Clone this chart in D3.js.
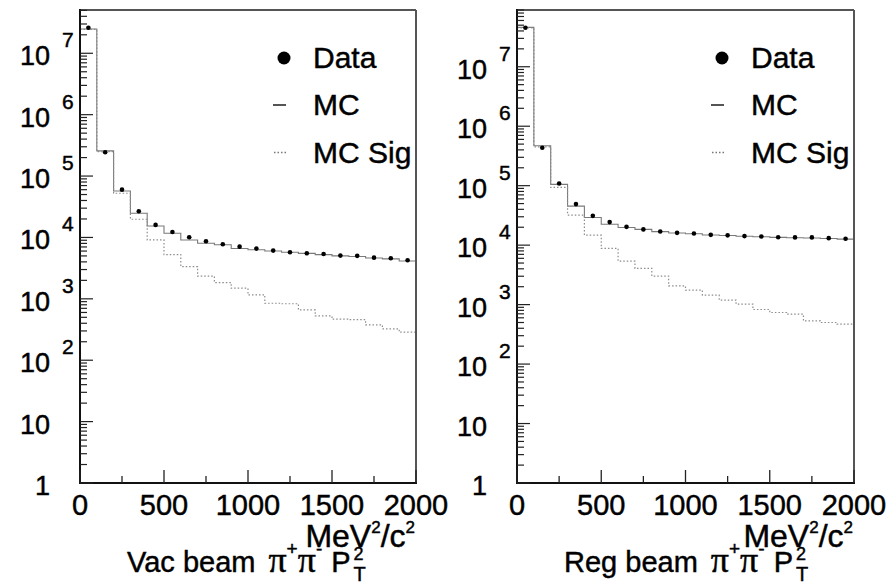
<!DOCTYPE html>
<html><head><meta charset="utf-8">
<script src="https://cdn.jsdelivr.net/npm/d3@7"></script>
<style>
body{margin:0;background:#fff}
svg{display:block}
text{font-family:"Liberation Sans",Arial,Helvetica,sans-serif;fill:#000;stroke:#000;stroke-width:0.45px}
</style>
</head><body>
<svg id="chart" width="894" height="583"></svg>
<script>
// ---------------- data ----------------
const binCenters = [50,150,250,350,450,550,650,750,850,950,1050,1150,1250,1350,1450,1550,1650,1750,1850,1950];
const binWidth = 100;
const xTickValues = [0,500,1000,1500,2000];
const xMinorTickValues = [250,750,1250,1750];
const yDecades = [0,1,2,3,4,5,6,7];
const panelTitles = ["Vac beam","Reg beam"];
const legendLabels = ["Data","MC","MC Sig"];

const vacData = [2.61e7,2.44e5,6.01e4,2.67e4,1.60e4,1.23e4,1.01e4,8670,7740,7080,6580,6100,5740,5530,5380,5060,5010,4690,4580,4260];
const vacMC   = [2.49e7,2.57e5,5.71e4,2.48e4,1.54e4,1.17e4,9100,8050,7590,6610,6310,6030,5750,5500,5250,5010,4900,4620,4470,4140];
const vacSig  = [2.45e7,2.50e5,5.25e4,1.98e4,9120,5250,3340,2340,1840,1490,1160,847,832,659,527,466,457,376,324,286];

const regData = [4.53e7,4.34e5,1.09e5,4.90e4,3.11e4,2.44e4,2.03e4,1.84e4,1.70e4,1.61e4,1.57e4,1.49e4,1.46e4,1.42e4,1.40e4,1.36e4,1.35e4,1.35e4,1.31e4,1.28e4];
const regMC   = [4.60e7,4.69e5,1.05e5,4.53e4,2.92e4,2.25e4,1.98e4,1.84e4,1.69e4,1.60e4,1.55e4,1.48e4,1.45e4,1.41e4,1.38e4,1.35e4,1.33e4,1.32e4,1.29e4,1.26e4];
const regSig  = [4.50e7,4.50e5,9.36e4,3.20e4,1.47e4,8790,5380,4060,3010,2070,1750,1440,1190,1020,828,736,690,532,500,469];

const yMaxValues = [5.07e7, 9.0e7];

// ---------------- layout ----------------
const svg = d3.select("#chart");
const panels = [
  {left:80, right:416, top:10, bottom:483, title:panelTitles[0], data:vacData, mc:vacMC, sig:vacSig, ymax:yMaxValues[0]},
  {left:517, right:854, top:10, bottom:483, title:panelTitles[1], data:regData, mc:regMC, sig:regSig, ymax:yMaxValues[1]}
];
const serif = "'Liberation Serif','DejaVu Serif',serif";

panels.forEach(p => {
  const g = svg.append("g");
  const x = d3.scaleLinear().domain([0,2000]).range([p.left,p.right]);
  const y = d3.scaleLog().domain([1,p.ymax]).range([p.bottom,p.top]);

  const stepPts = vals => {
    const pts = [];
    vals.forEach((v,i) => {
      pts.push([binCenters[i]-binWidth/2, v]);
      pts.push([binCenters[i]+binWidth/2, v]);
    });
    return pts;
  };
  const line = d3.line().x(d => x(d[0])).y(d => y(Math.max(d[1],1)));

  g.append("path").attr("d", line(stepPts(p.mc)))
    .attr("fill","none").attr("stroke","#7a7a7a").attr("stroke-width",1.1);
  g.append("path").attr("d", line(stepPts(p.sig)))
    .attr("fill","none").attr("stroke","#8c8c8c").attr("stroke-width",1.2)
    .attr("stroke-dasharray","1.5,2");

  g.selectAll("circle.pt").data(p.data).enter().append("circle")
    .attr("class","pt")
    .attr("cx",(d,i)=>x(binCenters[i])).attr("cy",d=>y(d)).attr("r",2.3)
    .attr("fill","#000");

  // frame
  g.append("line").attr("x1",p.left).attr("x2",p.right).attr("y1",p.top).attr("y2",p.top)
    .attr("stroke","#555").attr("stroke-width",2);
  g.append("line").attr("x1",p.right).attr("x2",p.right).attr("y1",p.top).attr("y2",p.bottom)
    .attr("stroke","#555").attr("stroke-width",2);
  g.append("line").attr("x1",p.left).attr("x2",p.left).attr("y1",p.top-1).attr("y2",p.bottom+1)
    .attr("stroke","#111").attr("stroke-width",2);
  g.append("line").attr("x1",p.left-1).attr("x2",p.right+1).attr("y1",p.bottom).attr("y2",p.bottom)
    .attr("stroke","#111").attr("stroke-width",2);

  // y ticks
  y.ticks().forEach(v => {
    const isMajor = Math.abs(Math.log10(v) - Math.round(Math.log10(v))) < 1e-9;
    g.append("line").attr("x1",p.left).attr("x2",p.left + (isMajor?13:7))
      .attr("y1",y(v)).attr("y2",y(v)).attr("stroke","#222").attr("stroke-width",1.2);
  });
  // x ticks
  xTickValues.forEach(v => {
    g.append("line").attr("x1",x(v)).attr("x2",x(v)).attr("y1",p.bottom).attr("y2",p.bottom-13)
      .attr("stroke","#222").attr("stroke-width",1.3);
  });
  xMinorTickValues.forEach(v => {
    g.append("line").attr("x1",x(v)).attr("x2",x(v)).attr("y1",p.bottom).attr("y2",p.bottom-7)
      .attr("stroke","#222").attr("stroke-width",1.3);
  });

  // y tick labels
  yDecades.forEach(n => {
    const ty = y(Math.pow(10,n));
    g.append("text").attr("x",p.left-30).attr("y",ty+12).attr("text-anchor","end")
      .style("font-size","27px").text(n === 0 ? "1" : "10");
    if (n > 1) {
      g.append("text").attr("x",p.left-18).attr("y",ty-6)
        .style("font-size","21px").text(String(n));
    }
  });

  // x tick labels
  xTickValues.forEach(v => {
    g.append("text").attr("x",x(v)).attr("y",p.bottom+32).attr("text-anchor","middle")
      .style("font-size","29px").text(String(v));
  });

  // units
  const u = g.append("text").attr("x",p.right-1).attr("y",547).attr("text-anchor","end")
    .style("font-size","32px");
  u.append("tspan").text("MeV");
  u.append("tspan").attr("dy",-14).style("font-size","17px").text("2");
  u.append("tspan").attr("dy",14).text("/c");
  u.append("tspan").attr("dy",-14).style("font-size","17px").text("2");

  // title
  const tx = p.left + 47, tyb = 572;
  const t = g.append("text").attr("x",tx).attr("y",tyb).style("font-size","29px");
  t.append("tspan").text(p.title);
  t.append("tspan").attr("dx",13).style("font-family",serif).style("font-size","36px").text("π");
  t.append("tspan").attr("dy",-17).style("font-size","19px").text("+");
  t.append("tspan").attr("dy",17).attr("dx",0).style("font-family",serif).style("font-size","36px").text("π");
  t.append("tspan").attr("dy",-17).style("font-size","19px").text("-");
  t.append("tspan").attr("dy",17).attr("dx",9).text("P");
  const bb = t.node().getBBox();
  const endX = bb.x + bb.width;
  g.append("text").attr("x",endX+3).attr("y",560).style("font-size","18px").text("2");
  g.append("text").attr("x",endX+3).attr("y",581).style("font-size","20px").text("T");

  // legend
  const lx = p.right - 132, ltx = p.right - 103;
  g.append("circle").attr("cx",lx).attr("cy",58).attr("r",6.5).attr("fill","#000");
  g.append("text").attr("x",ltx).attr("y",68).style("font-size","30px").text(legendLabels[0]);
  g.append("line").attr("x1",lx-11).attr("x2",lx+2).attr("y1",105).attr("y2",105)
    .attr("stroke","#555").attr("stroke-width",2);
  g.append("text").attr("x",ltx).attr("y",115).style("font-size","30px").text(legendLabels[1]);
  g.append("line").attr("x1",lx-10).attr("x2",lx+3).attr("y1",152.5).attr("y2",152.5)
    .attr("stroke","#777").attr("stroke-width",1.3).attr("stroke-dasharray","1.5,2");
  g.append("text").attr("x",ltx).attr("y",163).style("font-size","30px").text(legendLabels[2]);
});
</script>
</body></html>
